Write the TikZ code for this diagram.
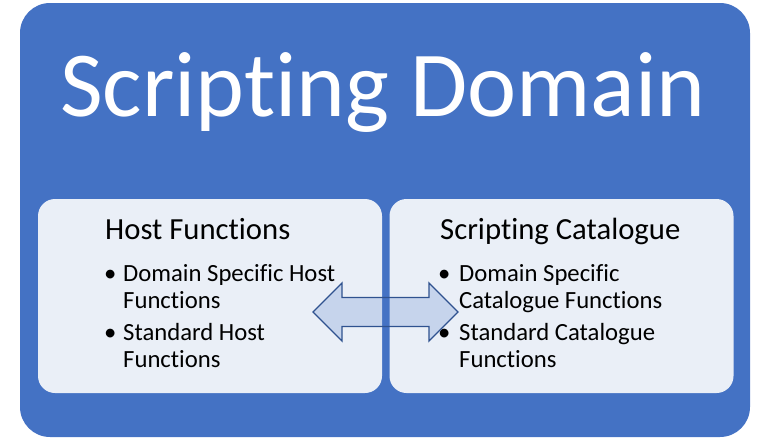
\documentclass[tikz,border=0pt]{standalone}
\usepackage{fontspec}
\setmainfont{Carlito}[RawFeature={-liga;-clig;-calt;-dlig}]
\definecolor{domainblue}{HTML}{4472C4}
\definecolor{panelfill}{HTML}{EAEFF7}
\definecolor{linkline}{HTML}{2F528F}

\begin{document}
\begin{tikzpicture}[
    x=1pt, y=-1pt,
    domainbox/.style={rectangle, rounded corners=30pt, fill=domainblue,
                   minimum width=730pt, minimum height=434pt},
    panel/.style={rectangle, rounded corners=17pt, fill=panelfill,
                  minimum width=344pt, minimum height=194pt},
    titletext/.style={anchor=base, inner sep=0pt, text=white, font=\fontsize{93}{100}\selectfont},
    heading/.style={anchor=base west, inner sep=0pt, font=\fontsize{30.7}{34}\selectfont},
    items/.style={anchor=base west, inner sep=0pt, font=\fontsize{24.7}{27}\selectfont},
    linkarrow/.style={draw=linkline, line width=1.3pt, line join=miter,
                      fill=domainblue, fill opacity=0.21}
]
\useasboundingbox (0,0) rectangle (766,439);

% Outer domain
\node[domainbox] (domain) at (385,220) {};
\node[titletext] (title) at (383,116) {Scripting Domain};

% Panels
\node[panel] (host) at (210,296) {};
\node[panel] (cat) at (561.5,296) {};

% Panel texts
\node[heading] (host-h) at (105,239) {Host Functions};
\node[heading] (cat-h) at (440,239) {Scripting Catalogue};

\node[items] (host-i) at (104,281)
     {\begin{tabular}[t]{@{}p{19pt}@{}l@{}}
      \textbullet & Domain Specific Host\\
                  & Functions\\[5pt]
      \textbullet & Standard Host\\
                  & Functions
      \end{tabular}};
\node[items] (cat-i) at (438,281)
     {\begin{tabular}[t]{@{}p{21pt}@{}l@{}}
      \textbullet & Domain Specific\\
                  & Catalogue Functions\\[5pt]
      \textbullet & Standard Catalogue\\
                  & Functions
      \end{tabular}};

% Link between panels (double block arrow)
\coordinate (link) at (385.5,312);
\draw[linkarrow] (link) ++(-72.5,0) -- ++(29,-29) -- ++(0,14.5) -- ++(87,0)
     -- ++(0,-14.5) -- ++(29,29) -- ++(-29,29) -- ++(0,-14.5) -- ++(-87,0)
     -- ++(0,14.5) -- cycle;

\end{tikzpicture}
\end{document}
